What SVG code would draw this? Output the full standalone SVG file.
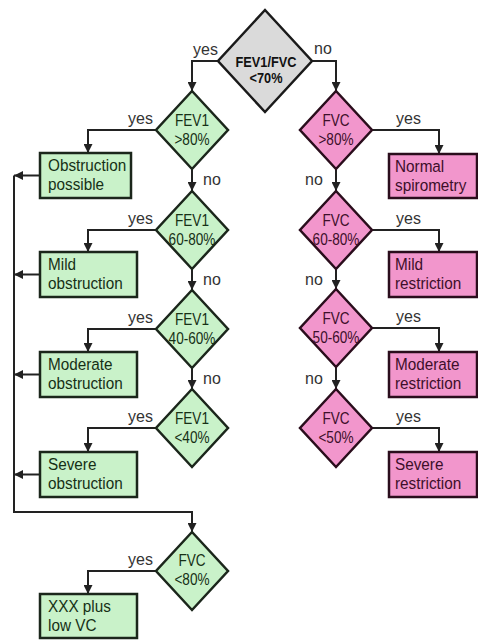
<svg xmlns="http://www.w3.org/2000/svg" width="478" height="640" viewBox="0 0 478 640">
<style>
.ln{fill:none;stroke:#222;stroke-width:2}
.gd{fill:#c9f2c9;stroke:#1b261b;stroke-width:2.5}
.pd{fill:#f296cc;stroke:#2a0d1c;stroke-width:2.5}
.gr{fill:#dadada;stroke:#1a1a1a;stroke-width:2.5}
text{font-family:"Liberation Sans",Arial,sans-serif}
.dt{font-size:16px;text-anchor:middle}
.bt{font-size:17px}
.lb{font-size:16px;fill:#333}
.tg{fill:#163016}
.tp{fill:#3d0f2a}
.tt{font-size:15px;font-weight:bold;text-anchor:middle;fill:#111}
</style>
<defs>
<marker id="ah" markerUnits="userSpaceOnUse" markerWidth="9" markerHeight="9" refX="9" refY="4.5" orient="auto">
<path d="M0,0 L9,4.5 L0,9 z" fill="#222"/>
</marker>
</defs>
<rect width="478" height="640" fill="#fff"/>
<g id="connectors">
<path class="ln" d="M218,61 H192 V91" marker-end="url(#ah)"/>
<path class="ln" d="M312,61 H336 V91" marker-end="url(#ah)"/>
<path class="ln" d="M192,169 V191" marker-end="url(#ah)"/>
<path class="ln" d="M192,269 V290" marker-end="url(#ah)"/>
<path class="ln" d="M192,368 V389" marker-end="url(#ah)"/>
<path class="ln" d="M156,130 H88 V153" marker-end="url(#ah)"/>
<path class="ln" d="M156,230 H88 V252" marker-end="url(#ah)"/>
<path class="ln" d="M156,329 H88 V352" marker-end="url(#ah)"/>
<path class="ln" d="M156,428 H88 V452" marker-end="url(#ah)"/>
<path class="ln" d="M156,571 H88 V594" marker-end="url(#ah)"/>
<path class="ln" d="M40,175.5 H14" marker-end="url(#ah)"/>
<path class="ln" d="M40,274.5 H14" marker-end="url(#ah)"/>
<path class="ln" d="M40,374.5 H14" marker-end="url(#ah)"/>
<path class="ln" d="M40,474.5 H14" marker-end="url(#ah)"/>
<path class="ln" d="M14,175.5 V512 H192 V532" marker-end="url(#ah)"/>
<path class="ln" d="M336,169 V191" marker-end="url(#ah)"/>
<path class="ln" d="M336,269 V289" marker-end="url(#ah)"/>
<path class="ln" d="M336,367 V389" marker-end="url(#ah)"/>
<path class="ln" d="M372,130 H439 V154" marker-end="url(#ah)"/>
<path class="ln" d="M372,230 H439 V252" marker-end="url(#ah)"/>
<path class="ln" d="M372,328 H439 V352" marker-end="url(#ah)"/>
<path class="ln" d="M372,428 H439 V452" marker-end="url(#ah)"/>
<text class="lb" x="193" y="55">yes</text>
<text class="lb" x="314" y="54">no</text>
<text class="lb" x="153" y="124" text-anchor="end">yes</text>
<text class="lb" x="153" y="224" text-anchor="end">yes</text>
<text class="lb" x="153" y="323" text-anchor="end">yes</text>
<text class="lb" x="153" y="422" text-anchor="end">yes</text>
<text class="lb" x="153" y="565" text-anchor="end">yes</text>
<text class="lb" x="203" y="185">no</text>
<text class="lb" x="203" y="285">no</text>
<text class="lb" x="203" y="384">no</text>
<text class="lb" x="396" y="124">yes</text>
<text class="lb" x="396" y="224">yes</text>
<text class="lb" x="396" y="322">yes</text>
<text class="lb" x="396" y="422">yes</text>
<text class="lb" x="305" y="185">no</text>
<text class="lb" x="305" y="285">no</text>
<text class="lb" x="305" y="384">no</text>
</g>
<g id="start">
<polygon class="gr" points="265,10 312,61 265,112 218,61"/>
<text class="tt" transform="translate(266,67) scale(0.85,1)">FEV1/FVC</text>
<text class="tt" transform="translate(266,83) scale(0.85,1)">&lt;70%</text>
</g>
<g id="fev1-80">
<polygon class="gd" points="192,91 228,130 192,169 156,130"/>
<text class="dt tg" transform="translate(192,126) scale(0.85,1)">FEV1</text>
<text class="dt tg" transform="translate(192,145) scale(0.85,1)">&gt;80%</text>
</g>
<g id="fev1-60-80">
<polygon class="gd" points="192,191 228,230 192,269 156,230"/>
<text class="dt tg" transform="translate(192,226) scale(0.85,1)">FEV1</text>
<text class="dt tg" transform="translate(192,245) scale(0.85,1)">60-80%</text>
</g>
<g id="fev1-40-60">
<polygon class="gd" points="192,290 228,329 192,368 156,329"/>
<text class="dt tg" transform="translate(192,325) scale(0.85,1)">FEV1</text>
<text class="dt tg" transform="translate(192,344) scale(0.85,1)">40-60%</text>
</g>
<g id="fev1-40">
<polygon class="gd" points="192,389 228,428 192,467 156,428"/>
<text class="dt tg" transform="translate(192,424) scale(0.85,1)">FEV1</text>
<text class="dt tg" transform="translate(192,443) scale(0.85,1)">&lt;40%</text>
</g>
<g id="fvc-80-green">
<polygon class="gd" points="192,532 228,571 192,610 156,571"/>
<text class="dt tg" transform="translate(192,566) scale(0.85,1)">FVC</text>
<text class="dt tg" transform="translate(192,585) scale(0.85,1)">&lt;80%</text>
</g>
<g id="fvc-80">
<polygon class="pd" points="336,91 372,130 336,169 300,130"/>
<text class="dt tp" transform="translate(336,126) scale(0.85,1)">FVC</text>
<text class="dt tp" transform="translate(336,145) scale(0.85,1)">&gt;80%</text>
</g>
<g id="fvc-60-80">
<polygon class="pd" points="336,191 372,230 336,269 300,230"/>
<text class="dt tp" transform="translate(336,226) scale(0.85,1)">FVC</text>
<text class="dt tp" transform="translate(336,245) scale(0.85,1)">60-80%</text>
</g>
<g id="fvc-50-60">
<polygon class="pd" points="336,289 372,328 336,367 300,328"/>
<text class="dt tp" transform="translate(336,324) scale(0.85,1)">FVC</text>
<text class="dt tp" transform="translate(336,343) scale(0.85,1)">50-60%</text>
</g>
<g id="fvc-50">
<polygon class="pd" points="336,389 372,428 336,467 300,428"/>
<text class="dt tp" transform="translate(336,424) scale(0.85,1)">FVC</text>
<text class="dt tp" transform="translate(336,443) scale(0.85,1)">&lt;50%</text>
</g>
<g id="obstruction-possible">
<rect class="gd" x="40" y="153" width="91" height="45"/>
<text class="bt tg" transform="translate(48,171) scale(0.9,1)">Obstruction</text>
<text class="bt tg" transform="translate(48,190) scale(0.9,1)">possible</text>
</g>
<g id="mild-obstruction">
<rect class="gd" x="40" y="252" width="97" height="45"/>
<text class="bt tg" transform="translate(48,270) scale(0.9,1)">Mild</text>
<text class="bt tg" transform="translate(48,289) scale(0.9,1)">obstruction</text>
</g>
<g id="moderate-obstruction">
<rect class="gd" x="40" y="352" width="97" height="45"/>
<text class="bt tg" transform="translate(48,370) scale(0.9,1)">Moderate</text>
<text class="bt tg" transform="translate(48,389) scale(0.9,1)">obstruction</text>
</g>
<g id="severe-obstruction">
<rect class="gd" x="40" y="452" width="97" height="45"/>
<text class="bt tg" transform="translate(48,470) scale(0.9,1)">Severe</text>
<text class="bt tg" transform="translate(48,489) scale(0.9,1)">obstruction</text>
</g>
<g id="xxx-low-vc">
<rect class="gd" x="40" y="594" width="97" height="44"/>
<text class="bt tg" transform="translate(48,612) scale(0.9,1)">XXX plus</text>
<text class="bt tg" transform="translate(48,631) scale(0.9,1)">low VC</text>
</g>
<g id="normal-spirometry">
<rect class="pd" x="389" y="154" width="88" height="44"/>
<text class="bt tp" transform="translate(395,172) scale(0.9,1)">Normal</text>
<text class="bt tp" transform="translate(395,191) scale(0.9,1)">spirometry</text>
</g>
<g id="mild-restriction">
<rect class="pd" x="389" y="252" width="88" height="45"/>
<text class="bt tp" transform="translate(395,270) scale(0.9,1)">Mild</text>
<text class="bt tp" transform="translate(395,289) scale(0.9,1)">restriction</text>
</g>
<g id="moderate-restriction">
<rect class="pd" x="389" y="352" width="88" height="45"/>
<text class="bt tp" transform="translate(395,370) scale(0.9,1)">Moderate</text>
<text class="bt tp" transform="translate(395,389) scale(0.9,1)">restriction</text>
</g>
<g id="severe-restriction">
<rect class="pd" x="389" y="452" width="88" height="45"/>
<text class="bt tp" transform="translate(395,470) scale(0.9,1)">Severe</text>
<text class="bt tp" transform="translate(395,489) scale(0.9,1)">restriction</text>
</g>
</svg>
